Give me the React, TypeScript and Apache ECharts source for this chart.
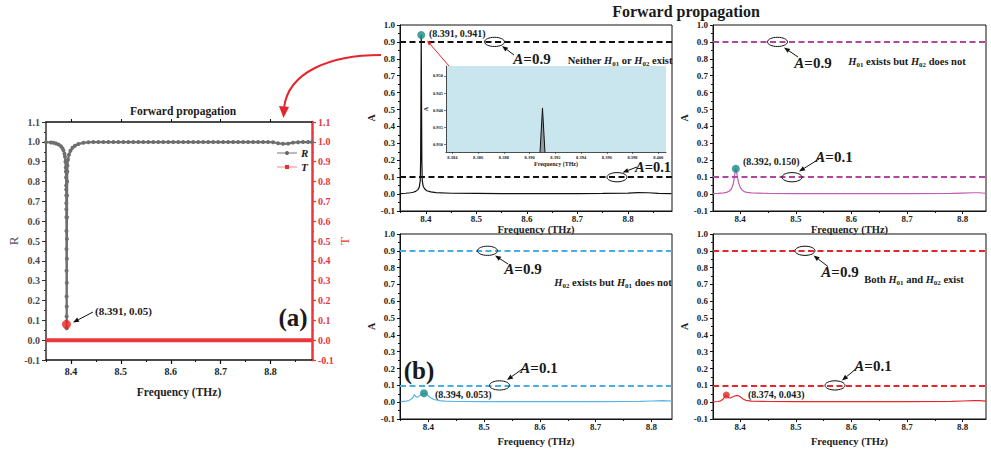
import React, { useEffect, useRef } from "react";
import * as echarts from "echarts";

const SERIF = '"Liberation Serif", "Times New Roman", serif';

// ---------- tick values ----------
const X_TICKS = [8.4, 8.5, 8.6, 8.7, 8.8];
const X_MINOR = [8.35, 8.45, 8.55, 8.65, 8.75, 8.85];
const INSET_X_TICKS = [8.384, 8.386, 8.388, 8.39, 8.392, 8.394, 8.396, 8.398, 8.4];
const INSET_Y_TICKS = [0.93, 0.935, 0.94, 0.945, 0.95];
const A_LEVELS = [0.9, 0.1];

// ---------- panel (a): R and T ----------
const A_R_FREQ = [
  8.35, 8.36, 8.365, 8.37, 8.375, 8.38, 8.383, 8.385, 8.387, 8.388, 8.389, 8.3895, 8.3899,
  8.3902, 8.3904, 8.3905, 8.3906, 8.3907, 8.3908, 8.3909, 8.391, 8.3911, 8.3912, 8.3913,
  8.3914, 8.3915, 8.3916, 8.3917, 8.3918, 8.3919, 8.392, 8.3922, 8.3924, 8.3927, 8.393,
  8.394, 8.396, 8.399, 8.403, 8.408, 8.415, 8.425, 8.435, 8.445, 8.455, 8.465, 8.475,
  8.485, 8.495, 8.505, 8.515, 8.525, 8.535, 8.545, 8.555, 8.565, 8.575, 8.585, 8.595,
  8.605, 8.615, 8.625, 8.635, 8.645, 8.655, 8.665, 8.675, 8.685, 8.695, 8.705, 8.715,
  8.725, 8.735, 8.745, 8.755, 8.765, 8.775, 8.785, 8.795, 8.805, 8.815, 8.825, 8.835,
  8.845, 8.855, 8.865, 8.875, 8.883,
];
const A_R_VALS = [
  0.998, 0.997, 0.995, 0.992, 0.987, 0.978, 0.968, 0.957, 0.94, 0.925, 0.9, 0.87, 0.85,
  0.82, 0.78, 0.76, 0.73, 0.69, 0.66, 0.62, 0.55, 0.46, 0.35, 0.22,
  0.12, 0.06, 0.17, 0.29, 0.41, 0.51, 0.62, 0.73, 0.8, 0.85, 0.88,
  0.91, 0.935, 0.955, 0.97, 0.98, 0.989, 0.995, 0.998, 0.999, 0.999, 0.999, 0.999,
  0.999, 0.999, 0.999, 0.999, 0.999, 0.999, 0.999, 0.999, 0.999, 0.999, 0.999, 0.999,
  0.999, 0.999, 0.999, 0.999, 0.999, 0.999, 0.999, 0.999, 0.999, 0.999, 0.999, 0.999,
  0.999, 0.999, 0.999, 0.999, 0.999, 0.999, 0.999, 0.999, 0.998, 0.993, 0.99, 0.991,
  0.996, 0.998, 0.999, 0.999, 0.999,
];
const A_T_FREQ = [8.35, 8.883];
const A_T_VALS = [0, 0];
const A_MARK = [8.391, 0.08];

// ---------- panel (b): absorption A ----------
const B1_FREQ = [
  8.35, 8.36, 8.37, 8.375, 8.38, 8.384, 8.387, 8.389, 8.3898, 8.3904, 8.391, 8.3916,
  8.3922, 8.393, 8.395, 8.398, 8.402, 8.41, 8.42, 8.45, 8.5, 8.55, 8.6, 8.65, 8.7, 8.75,
  8.8, 8.82, 8.84, 8.86, 8.886,
];
const B1_VALS = [
  0.003, 0.005, 0.008, 0.011, 0.016, 0.025, 0.04, 0.08, 0.2, 0.55, 0.941, 0.55,
  0.2, 0.08, 0.045, 0.03, 0.02, 0.013, 0.009, 0.005, 0.004, 0.003, 0.003, 0.003, 0.003, 0.004,
  0.006, 0.009, 0.008, 0.004, 0.003,
];
const B1_MARK = [8.391, 0.941];

const B2_FREQ = [
  8.35, 8.36, 8.37, 8.375, 8.38, 8.384, 8.387, 8.389, 8.391, 8.392, 8.393, 8.395, 8.397,
  8.4, 8.403, 8.407, 8.412, 8.42, 8.45, 8.5, 8.6, 8.7, 8.78, 8.8, 8.82, 8.83, 8.841,
];
const B2_VALS = [
  0.003, 0.004, 0.007, 0.01, 0.017, 0.03, 0.055, 0.09, 0.135, 0.15, 0.138, 0.1, 0.068,
  0.04, 0.025, 0.015, 0.01, 0.007, 0.004, 0.003, 0.003, 0.003, 0.004, 0.006, 0.008, 0.008, 0.005,
];
const B2_MARK = [8.392, 0.15];

const B3_FREQ = [
  8.35, 8.36, 8.365, 8.37, 8.373, 8.375, 8.377, 8.38, 8.383, 8.386, 8.389, 8.392, 8.395,
  8.398, 8.401, 8.405, 8.41, 8.42, 8.43, 8.45, 8.5, 8.6, 8.7, 8.78, 8.8, 8.82, 8.837,
];
const B3_VALS = [
  0.003, 0.006, 0.01, 0.02, 0.032, 0.045, 0.034, 0.03, 0.035, 0.042, 0.049, 0.053, 0.05,
  0.043, 0.034, 0.024, 0.016, 0.009, 0.006, 0.004, 0.003, 0.003, 0.003, 0.005, 0.007, 0.009, 0.006,
];
const B3_MARK = [8.392, 0.053];

const B4_FREQ = [
  8.35, 8.36, 8.365, 8.369, 8.372, 8.375, 8.377, 8.38, 8.383, 8.387, 8.391, 8.395, 8.398,
  8.401, 8.405, 8.41, 8.42, 8.45, 8.5, 8.6, 8.7, 8.78, 8.8, 8.82, 8.83, 8.842,
];
const B4_VALS = [
  0.002, 0.004, 0.008, 0.018, 0.032, 0.043, 0.032, 0.025, 0.026, 0.032, 0.038, 0.04, 0.037,
  0.03, 0.019, 0.011, 0.006, 0.004, 0.003, 0.003, 0.003, 0.005, 0.007, 0.009, 0.009, 0.006,
];
const B4_MARK = [8.375, 0.043];

const INSET_FREQ = [8.3908, 8.391, 8.3912];
const INSET_VALS = [0.927, 0.9406, 0.927];

const zip = (xs: number[], ys: number[]) => xs.map((x, i) => [x, ys[i]]);

// ---------- helpers ----------
const txt = (
  x: number, y: number, text: string, size: number,
  extra: Record<string, any> = {}
) => ({
  type: "text", x, y, z: 100,
  style: {
    text, fontFamily: SERIF, fontSize: size, fontWeight: "bold", fill: "#1a1a1a",
    align: "center", verticalAlign: "middle", ...extra,
  },
});

const richStyles = (size: number) => ({
  b: { fontFamily: SERIF, fontSize: size, fontWeight: "bold", fill: "#1a1a1a", lineHeight: size * 1.3 },
  i: { fontFamily: SERIF, fontSize: size, fontWeight: "bold", fontStyle: "italic", fill: "#1a1a1a", lineHeight: size * 1.3 },
  s: { fontFamily: SERIF, fontSize: size * 0.66, fontWeight: "bold", fill: "#1a1a1a", verticalAlign: "bottom", lineHeight: size * 0.8 },
});

const richTxt = (x: number, y: number, text: string, size: number, align = "center") => ({
  type: "text", x, y, z: 100,
  style: { text, rich: richStyles(size), align, verticalAlign: "middle" },
});

const arrow = (x1: number, y1: number, x2: number, y2: number, color = "#111", w = 1, head = 6) => {
  const ang = Math.atan2(y2 - y1, x2 - x1);
  const bx = x2 - head * Math.cos(ang);
  const by = y2 - head * Math.sin(ang);
  const hw = head * 0.4;
  const px = -Math.sin(ang) * hw;
  const py = Math.cos(ang) * hw;
  return [
    { type: "line", z: 100, shape: { x1, y1, x2: bx, y2: by }, style: { stroke: color, lineWidth: w } },
    {
      type: "polygon", z: 100,
      shape: { points: [[x2, y2], [bx + px, by + py], [bx - px, by - py]] },
      style: { fill: color },
    },
  ];
};

const ell = (cx: number, cy: number) => ({
  type: "ellipse", z: 100, shape: { cx, cy, rx: 10, ry: 4.6 },
  style: { fill: "none", stroke: "#111", lineWidth: 1 },
});

// ---------- axes ----------
const labelStyle = (size: number, color = "#222") => ({
  fontFamily: SERIF, fontWeight: "bold", fontSize: size, color,
});

const xMain = (g: number, min: number, max: number, nameGap: number) => ({
  type: "value", gridIndex: g, min, max, position: "bottom",
  axisLine: { show: true, onZero: false, lineStyle: { color: "#111", width: 1 } },
  axisTick: { show: true, length: 3, customValues: X_TICKS, lineStyle: { color: "#111" } },
  axisLabel: {
    show: true, customValues: X_TICKS, margin: 3, ...labelStyle(9),
    formatter: (v: number) => v.toFixed(1),
  },
  splitLine: { show: false },
  name: "Frequency (THz)", nameLocation: "middle", nameGap,
  nameTextStyle: labelStyle(10.5),
});
const xMinor = (g: number, min: number, max: number) => ({
  type: "value", gridIndex: g, min, max, position: "bottom",
  axisLine: { show: false, onZero: false },
  axisTick: { show: true, length: 2, customValues: X_MINOR, lineStyle: { color: "#111" } },
  axisLabel: { show: false },
  splitLine: { show: false },
});
const yB = (g: number) => ({
  type: "value", gridIndex: g, min: -0.1, max: 1.0, interval: 0.1,
  axisLine: { show: true, onZero: false, lineStyle: { color: "#111", width: 1 } },
  axisTick: { show: true, length: 3, lineStyle: { color: "#111" } },
  minorTick: { show: true, splitNumber: 2, length: 2, lineStyle: { color: "#111" } },
  splitLine: { show: false },
  minorSplitLine: { show: false },
  axisLabel: { margin: 5, ...labelStyle(9), formatter: (v: number) => v.toFixed(1) },
  name: "A", nameLocation: "middle", nameGap: 17, nameTextStyle: labelStyle(10),
});

const boxGrid = (left: number, top: number, width: number, height: number) => ({
  left, top, width, height, show: true, borderColor: "#111", borderWidth: 1,
  backgroundColor: "transparent", containLabel: false,
});

const dashLines = (color: string) => ({
  silent: true, symbol: ["none", "none"], label: { show: false },
  lineStyle: { type: [6, 3.5], width: 2.2, color },
  data: A_LEVELS.map((v) => ({ yAxis: v })),
});

const TEAL = "#17897f";
const PURPLE = "#b0469e";
const BLUE = "#4aaee3";
const RED = "#e5262b";

function buildOption() {
  return {
    animation: false,
    backgroundColor: "#ffffff",
    grid: [
      { left: 46, top: 122, width: 266, height: 238, show: false },
      boxGrid(400, 25, 272, 186),
      boxGrid(713, 25, 273, 186),
      boxGrid(400, 234, 272, 185),
      boxGrid(713, 234, 273, 185),
      { left: 446, top: 66, width: 220, height: 86, show: true, backgroundColor: "#c9e6ef", borderWidth: 0 },
    ],
    xAxis: [
      {
        type: "value", gridIndex: 0, min: 8.35, max: 8.883, position: "bottom",
        axisLine: { show: true, onZero: false, lineStyle: { color: "#111", width: 1.5 } },
        axisTick: { show: true, length: 4, customValues: X_TICKS, lineStyle: { color: "#111", width: 1.2 } },
        axisLabel: { show: true, customValues: X_TICKS, margin: 6, ...labelStyle(10), formatter: (v: number) => v.toFixed(1) },
        splitLine: { show: false },
        name: "Frequency (THz)", nameLocation: "middle", nameGap: 26, nameTextStyle: labelStyle(11.5),
      },
      xMinor(0, 8.35, 8.883),
      {
        type: "value", gridIndex: 0, min: 8.35, max: 8.883, position: "top",
        axisLine: { show: true, onZero: false, lineStyle: { color: "#111", width: 1.5 } },
        axisTick: { show: true, length: 3, customValues: X_TICKS, lineStyle: { color: "#111" } },
        axisLabel: { show: false }, splitLine: { show: false },
      },
      xMain(1, 8.349, 8.887, 12),
      xMinor(1, 8.349, 8.887),
      xMain(2, 8.351, 8.842, 12),
      xMinor(2, 8.351, 8.842),
      xMain(3, 8.349, 8.837, 17),
      xMinor(3, 8.349, 8.837),
      xMain(4, 8.351, 8.842, 17),
      xMinor(4, 8.351, 8.842),
      {
        type: "value", gridIndex: 5, min: 8.3835, max: 8.4006, position: "bottom",
        axisLine: { show: true, onZero: false, lineStyle: { color: "#222", width: 0.8 } },
        axisTick: { show: true, length: 2, customValues: INSET_X_TICKS, lineStyle: { color: "#222", width: 0.6 } },
        axisLabel: { show: true, customValues: INSET_X_TICKS, margin: 2.5, ...labelStyle(4.5), formatter: (v: number) => v.toFixed(3) },
        splitLine: { show: false },
        name: "Frequency (THz)", nameLocation: "middle", nameGap: 9, nameTextStyle: labelStyle(6),
      },
    ],
    yAxis: [
      {
        type: "value", gridIndex: 0, min: -0.1, max: 1.1, interval: 0.1, position: "left",
        axisLine: { show: true, onZero: false, lineStyle: { color: "#333", width: 1.5 } },
        axisTick: { show: true, length: 4, lineStyle: { color: "#333" } },
        minorTick: { show: true, splitNumber: 2, length: 2, lineStyle: { color: "#333" } },
        splitLine: { show: false }, minorSplitLine: { show: false },
        axisLabel: { margin: 6, ...labelStyle(10, "#4a4a4a"), formatter: (v: number) => v.toFixed(1) },
        name: "R", nameLocation: "middle", nameGap: 25,
        nameTextStyle: { fontFamily: SERIF, fontSize: 13, color: "#555" },
      },
      {
        type: "value", gridIndex: 0, min: -0.1, max: 1.1, interval: 0.1, position: "right",
        axisLine: { show: true, onZero: false, lineStyle: { color: "#e8383d", width: 2.5 } },
        axisTick: { show: true, length: 4, lineStyle: { color: "#e8383d", width: 1.2 } },
        minorTick: { show: true, splitNumber: 2, length: 2, lineStyle: { color: "#e8383d" } },
        splitLine: { show: false }, minorSplitLine: { show: false },
        axisLabel: { margin: 6, ...labelStyle(10, "#e8383d"), formatter: (v: number) => v.toFixed(1) },
        name: "T", nameLocation: "middle", nameGap: 16,
        nameTextStyle: { fontFamily: SERIF, fontSize: 13, color: "#e8383d" },
      },
      yB(1), yB(2), yB(3), yB(4),
      {
        type: "value", gridIndex: 5, min: 0.92765, max: 0.95294,
        axisLine: { show: true, onZero: false, lineStyle: { color: "#222", width: 0.8 } },
        axisTick: { show: true, length: 2, customValues: INSET_Y_TICKS, lineStyle: { color: "#222", width: 0.6 } },
        axisLabel: { show: true, customValues: INSET_Y_TICKS, margin: 3, ...labelStyle(4.5), formatter: (v: number) => v.toFixed(3) },
        splitLine: { show: false },
        name: "A", nameLocation: "middle", nameGap: 16, nameTextStyle: labelStyle(6),
      },
    ],
    series: [
      {
        type: "line", name: "R", xAxisIndex: 0, yAxisIndex: 0, data: zip(A_R_FREQ, A_R_VALS),
        symbol: "circle", symbolSize: 4, showSymbol: true, showAllSymbol: true,
        itemStyle: { color: "#6e6e6e" }, lineStyle: { color: "#6e6e6e", width: 2.2 }, z: 3,
      },
      {
        type: "line", name: "T", xAxisIndex: 0, yAxisIndex: 1, data: zip(A_T_FREQ, A_T_VALS),
        symbol: "none", lineStyle: { color: "#e8383d", width: 4 }, z: 4,
      },
      {
        type: "scatter", xAxisIndex: 0, yAxisIndex: 0, data: [A_MARK], symbolSize: 9,
        itemStyle: { color: "#ee2222" }, z: 5,
      },
      {
        type: "line", xAxisIndex: 3, yAxisIndex: 2, data: zip(B1_FREQ, B1_VALS), symbol: "none",
        lineStyle: { color: "#111", width: 1.2 }, markLine: dashLines("#111"), z: 3,
      },
      { type: "scatter", xAxisIndex: 3, yAxisIndex: 2, data: [B1_MARK], symbolSize: 8, itemStyle: { color: TEAL }, z: 5 },
      {
        type: "line", xAxisIndex: 5, yAxisIndex: 3, data: zip(B2_FREQ, B2_VALS), symbol: "none",
        lineStyle: { color: "#c35cb3", width: 1.2 }, markLine: dashLines(PURPLE), z: 3,
      },
      { type: "scatter", xAxisIndex: 5, yAxisIndex: 3, data: [B2_MARK], symbolSize: 8, itemStyle: { color: TEAL }, z: 5 },
      {
        type: "line", xAxisIndex: 7, yAxisIndex: 4, data: zip(B3_FREQ, B3_VALS), symbol: "none",
        lineStyle: { color: "#5ab4e6", width: 1.2 }, markLine: dashLines(BLUE), z: 3,
      },
      { type: "scatter", xAxisIndex: 7, yAxisIndex: 4, data: [B3_MARK], symbolSize: 8, itemStyle: { color: TEAL }, z: 5 },
      {
        type: "line", xAxisIndex: 9, yAxisIndex: 5, data: zip(B4_FREQ, B4_VALS), symbol: "none",
        lineStyle: { color: RED, width: 1.2 }, markLine: dashLines(RED), z: 3,
      },
      { type: "scatter", xAxisIndex: 9, yAxisIndex: 5, data: [B4_MARK], symbolSize: 7, itemStyle: { color: RED }, z: 5 },
      {
        type: "line", xAxisIndex: 11, yAxisIndex: 6, data: zip(INSET_FREQ, INSET_VALS), symbol: "none",
        lineStyle: { color: "#111", width: 1 }, areaStyle: { color: "#7a7a7a", origin: "start" }, z: 6,
      },
    ],
    graphic: [
      // titles
      txt(686, 11, "Forward propagation", 16),
      txt(183, 111, "Forward propagation", 11.5),
      // panel labels
      txt(293, 317, "(a)", 25),
      txt(419, 370, "(b)", 25),
      // legend (a)
      { type: "line", z: 100, shape: { x1: 277, y1: 153, x2: 297, y2: 153 }, style: { stroke: "#777", lineWidth: 1 } },
      { type: "circle", z: 100, shape: { cx: 287, cy: 153, r: 2 }, style: { fill: "#666" } },
      txt(301, 153, "R", 11, { align: "left", fontStyle: "italic" }),
      { type: "line", z: 100, shape: { x1: 277, y1: 167, x2: 297, y2: 167 }, style: { stroke: "#f08a8a", lineWidth: 1 } },
      { type: "rect", z: 100, shape: { x: 285, y: 165, width: 4, height: 4 }, style: { fill: "#ee2a2a" } },
      txt(301, 167, "T", 11, { align: "left", fontStyle: "italic" }),
      // annotation (a)
      txt(95, 311, "(8.391, 0.05)", 11, { align: "left" }),
      ...arrow(93, 312, 73, 322.5, "#111", 1, 6),
      // curved red arrow
      {
        type: "bezierCurve", z: 100,
        shape: { x1: 381, y1: 55, cpx1: 330, cpy1: 55, cpx2: 288, cpy2: 72, x2: 284, y2: 108 },
        style: { stroke: "#e4262c", lineWidth: 2, fill: "none" },
      },
      {
        type: "polygon", z: 100, shape: { points: [[279, 106], [289, 107], [283.5, 118]] },
        style: { fill: "#e4262c" },
      },
      // inset connector
      ...arrow(449, 66, 427, 40.5, "#e4262c", 1, 5),
      // peak labels
      txt(429, 33.5, "(8.391, 0.941)", 10, { align: "left" }),
      txt(743, 161.5, "(8.392, 0.150)", 10, { align: "left" }),
      txt(435, 394, "(8.394, 0.053)", 10, { align: "left" }),
      txt(748, 394.5, "(8.374, 0.043)", 10, { align: "left" }),
      // ellipses
      ell(494.5, 41.9), ell(617, 177.2),
      ell(777.5, 41.9), ell(792, 177.2),
      ell(487.5, 250.8), ell(499.5, 385.4),
      ell(805, 250.8), ell(835, 385.4),
      // arrows to ellipses
      ...arrow(514, 55, 502, 46), ...arrow(637, 167, 622.5, 172.5),
      ...arrow(798, 57, 784, 47.5), ...arrow(819, 159, 799, 171.5),
      ...arrow(508, 264, 495, 255.5), ...arrow(523, 368.5, 507, 380),
      ...arrow(828, 266.5, 813.5, 255.5), ...arrow(857, 368, 842, 380.5),
      // A = levels
      richTxt(532, 59, "{i|A}{b|=0.9}", 15),
      richTxt(653, 166.5, "{i|A}{b|=0.1}", 14.5),
      richTxt(813, 63, "{i|A}{b|=0.9}", 15),
      richTxt(834, 157, "{i|A}{b|=0.1}", 15),
      richTxt(523, 269, "{i|A}{b|=0.9}", 15),
      richTxt(539, 368, "{i|A}{b|=0.1}", 15),
      richTxt(840, 272, "{i|A}{b|=0.9}", 15),
      richTxt(873, 366, "{i|A}{b|=0.1}", 15),
      // descriptions
      richTxt(620, 60, "{b|Neither }{i|H}{s|01}{b| or }{i|H}{s|02}{b| exist}", 10.5),
      richTxt(907, 61, "{i|H}{s|01}{b| exists but }{i|H}{s|02}{b| does not}", 10.5),
      richTxt(613, 282, "{i|H}{s|02}{b| exists but }{i|H}{s|01}{b| does not}", 10.5),
      richTxt(914, 279, "{b|Both }{i|H}{s|01}{b| and }{i|H}{s|02}{b| exist}", 10.5),
    ],
  };
}

export default function App() {
  const ref = useRef<HTMLDivElement>(null);
  useEffect(() => {
    document.body.style.margin = "0";
    if (!ref.current) return;
    const chart = echarts.init(ref.current, undefined, { renderer: "svg" });
    chart.setOption(buildOption() as any);
    return () => chart.dispose();
  }, []);
  return (
    <div
      ref={ref}
      style={{ width: 991, height: 453, position: "absolute", left: 0, top: 0, background: "#fff" }}
    />
  );
}
